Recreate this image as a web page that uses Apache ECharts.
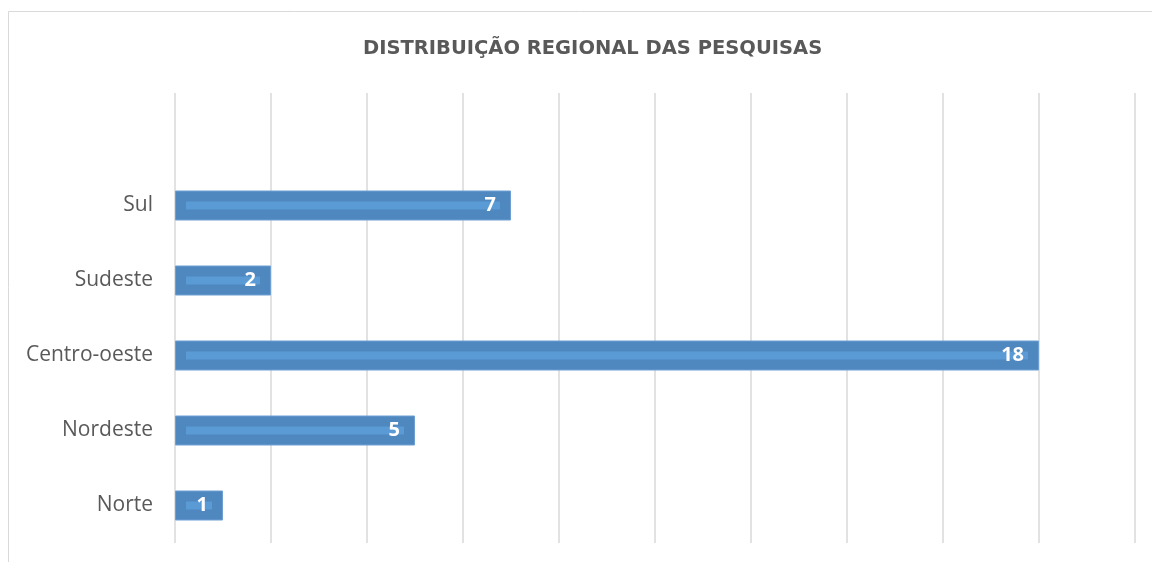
<!DOCTYPE html>
<html>
<head>
<meta charset="utf-8">
<script src="https://cdn.jsdelivr.net/npm/echarts@6/dist/echarts.min.js"></script>
<style>
  html, body { margin: 0; padding: 0; background: #fff; }
  #chart { width: 1152px; height: 562px; }
</style>
</head>
<body>
<div id="chart"></div>
<script>
var regioes = ['Norte', 'Nordeste', 'Centro-oeste', 'Sudeste', 'Sul', ''];
var pesquisas = [1, 5, 18, 2, 7, '-'];
var xMax = 20;
var xStep = 2;

var chart = echarts.init(document.getElementById('chart'));

var rotulo = {
    show: true,
    position: 'insideRight',
    distance: 15,
    fontFamily: 'Open Sans',
    fontSize: 20,
    fontWeight: 'bold',
    color: '#fff'
};

chart.setOption({
    animation: false,
    title: {
        text: 'DISTRIBUIÇÃO REGIONAL DAS PESQUISAS',
        left: 358,
        top: 34,
        textStyle: {
            fontFamily: 'DejaVu Sans',
            fontSize: 19.5,
            fontWeight: 'bold',
            color: '#595959'
        }
    },
    graphic: [{
        type: 'rect',
        shape: { x: 8.5, y: 11.5, width: 1160, height: 600 },
        style: { fill: 'none', stroke: '#d9d9d9', lineWidth: 1 },
        silent: true
    }],
    grid: {
        left: 175,
        right: 17,
        top: 93,
        bottom: 19
    },
    xAxis: {
        type: 'value',
        min: 0,
        max: xMax,
        interval: xStep,
        axisLabel: { show: false },
        axisLine: { show: false },
        axisTick: { show: false },
        splitLine: { lineStyle: { color: '#d9d9d9', width: 1.5 } }
    },
    yAxis: {
        type: 'category',
        data: regioes,
        axisLine: { show: false },
        axisTick: { show: false },
        axisLabel: {
            margin: 22,
            fontFamily: 'Open Sans',
            fontSize: 21,
            color: '#595959'
        }
    },
    series: [{
        // barra principal
        type: 'bar',
        data: pesquisas,
        barWidth: '40%',
        itemStyle: {
            color: '#4f87bf',
            borderColor: '#6fa0d3',
            borderWidth: 1
        },
        z: 2
    }, {
        // faixa clara no meio da barra
        type: 'custom',
        data: pesquisas,
        renderItem: function (params, api) {
            var v = api.value(0);
            var idx = params.dataIndex;
            var start = api.coord([0, idx]);
            var end = api.coord([v, idx]);
            var w = end[0] - start[0] - 22;
            if (w < 4) w = 4;
            return {
                type: 'rect',
                shape: { x: start[0] + 11, y: start[1] - 4, width: w, height: 8 },
                style: { fill: '#5b9bd5' }
            };
        },
        encode: { x: 0, y: 1 },
        silent: true,
        z: 3
    }, {
        // rótulo por cima da faixa
        type: 'bar',
        data: pesquisas,
        barWidth: '40%',
        barGap: '-100%',
        itemStyle: { color: 'rgba(0,0,0,0)' },
        label: rotulo,
        silent: true,
        z: 4
    }]
});
</script>
</body>
</html>
